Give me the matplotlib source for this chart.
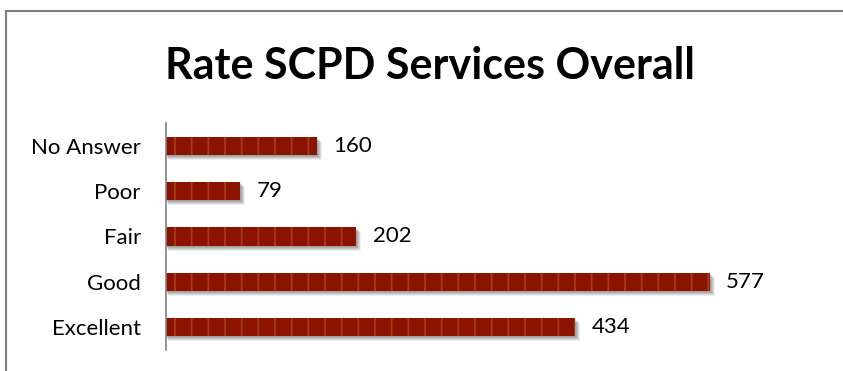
import matplotlib.pyplot as plt
from matplotlib.lines import Line2D

categories = ["Excellent", "Good", "Fair", "Poor", "No Answer"]
counts = [434, 577, 202, 79, 160]

plt.rcParams['font.family'] = ['Lato', 'DejaVu Sans']
plt.rcParams['hatch.color'] = '#a63c18'
plt.rcParams['hatch.linewidth'] = 1.3

fig = plt.figure(figsize=(8.43, 3.71), dpi=100)

# outer chart frame (only top and left edges are visible in the crop)
fig.add_artist(Line2D([6 / 843, 6 / 843], [0, 1 - 10.5 / 371], transform=fig.transFigure,
                      color='#7f7f7f', lw=1.5))
fig.add_artist(Line2D([6 / 843, 1], [1 - 10.5 / 371, 1 - 10.5 / 371], transform=fig.transFigure,
                      color='#7f7f7f', lw=1.5))

fig.text(0.51, 0.822, "Rate SCPD Services Overall", ha='center', va='center',
         fontsize=31, fontweight='bold')

ax = fig.add_axes([166 / 843, 1 - 350 / 371, 632 / 843, 227 / 371])
ypos = list(range(len(categories)))

# soft drop shadow: a few stacked translucent grey bars
for k, a in [(1, 0.12), (2, 0.14), (3, 0.14), (4, 0.12), (5, 0.08)]:
    ax.barh([y - 0.022 * k for y in ypos], [c + 0.5 * k for c in counts], height=0.4,
            left=0.5 * k, color='#3a3a3a', alpha=a, linewidth=0, zorder=1)

ax.barh(ypos, counts, height=0.4, color='#8b1300', hatch='|',
        edgecolor='#a63c18', linewidth=0, zorder=2)

for i, v in enumerate(counts):
    ax.text(v + 17, i, str(v), va='center', ha='left', fontsize=16)

ax.set_xlim(0, 632 / 0.943)
ax.set_ylim(-0.5, len(categories) - 0.5)
ax.set_yticks(ypos)
ax.set_yticklabels(categories, fontsize=16)
ax.tick_params(axis='y', length=0, pad=18)
ax.set_xticks([])
for s in ['top', 'right', 'bottom']:
    ax.spines[s].set_visible(False)
ax.spines['left'].set_color('#808080')
ax.spines['left'].set_linewidth(1.2)
ax.spines['left'].set_zorder(3)

fig.savefig("out.png", dpi=100)
